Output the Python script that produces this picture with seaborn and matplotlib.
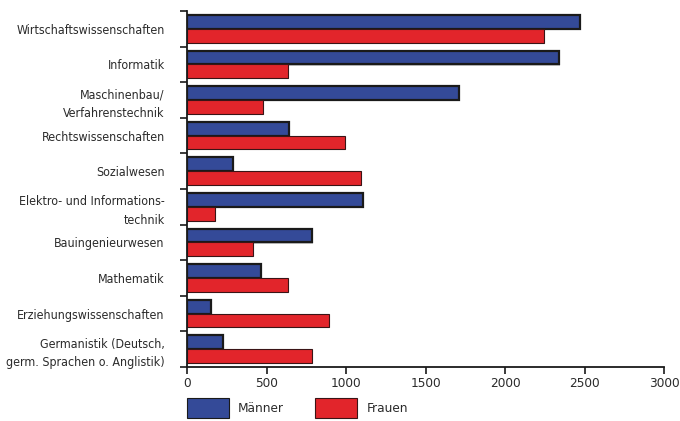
import matplotlib
matplotlib.use("Agg")
import matplotlib.pyplot as plt
import matplotlib.patheffects as pe
from matplotlib import font_manager as fm
from matplotlib.patches import Patch
from matplotlib.ticker import FixedLocator
import pandas as pd
import seaborn as sns

faecher = [
    "Wirtschaftswissenschaften",
    "Informatik",
    "Maschinenbau/\nVerfahrenstechnik",
    "Rechtswissenschaften",
    "Sozialwesen",
    "Elektro- und Informations-\ntechnik",
    "Bauingenieurwesen",
    "Mathematik",
    "Erziehungswissenschaften",
    "Germanistik (Deutsch,\ngerm. Sprachen o. Anglistik)",
]
maenner = [2470, 2340, 1710, 640, 290, 1105, 787, 466, 149, 228]
frauen = [2245, 633, 478, 992, 1095, 178, 413, 633, 891, 784]
x_ticks = [0, 500, 1000, 1500, 2000, 2500, 3000]

BLAU = "#344a98"
ROT = "#e2252b"
TEXT = "#2b2b2b"

df = pd.DataFrame({
    "Fach": faecher * 2,
    "Anzahl": maenner + frauen,
    "Geschlecht": ["Männer"] * len(faecher) + ["Frauen"] * len(faecher),
})

sns.set_theme(style="white")

# prefer a condensed face when one is installed, otherwise Roboto
cond = fm.findfont(fm.FontProperties(family="DejaVu Sans", stretch="condensed"))
if "Condensed" in cond:
    plt.rcParams["font.family"] = ["DejaVu Sans"]
    plt.rcParams["font.stretch"] = "condensed"
else:
    plt.rcParams["font.family"] = ["Roboto", "DejaVu Sans"]
FS = 8.9

fig = plt.figure(figsize=(6.8, 4.21), dpi=100)
ax = fig.add_axes([187 / 680, 1 - 367 / 421, (664.3 - 187) / 680, (367 - 11) / 421])

sns.barplot(
    data=df, y="Fach", x="Anzahl", hue="Geschlecht", order=faecher,
    hue_order=["Männer", "Frauen"], palette=[BLAU, ROT], orient="h",
    width=0.77, saturation=1, legend=False, ax=ax,
)

shadow = [pe.SimplePatchShadow(offset=(0.8, -0.8), shadow_rgbFace="#888888", alpha=0.5), pe.Normal()]
for bar in ax.containers[0]:
    bar.set_edgecolor("#1a1a1a")
    bar.set_linewidth(1.6)
    bar.set_path_effects(shadow)
for bar in ax.containers[1]:
    bar.set_edgecolor("#3a1416")
    bar.set_linewidth(0.8)
    bar.set_path_effects(shadow)

ax.set_xlim(0, 3000)
ax.set_ylim(len(faecher) - 0.5, -0.5)
ax.set_xlabel("")
ax.set_ylabel("")

for s in ("top", "right"):
    ax.spines[s].set_visible(False)
for s in ("left", "bottom"):
    ax.spines[s].set_color("#1a1a1a")
    ax.spines[s].set_linewidth(1.3)

ax.set_xticks(x_ticks)
ax.set_xticklabels([str(v) for v in x_ticks])
ax.tick_params(axis="x", direction="out", length=5, width=1.2, color="#1a1a1a",
               labelsize=FS + 0.8, labelcolor=TEXT, pad=2, bottom=True)
ax.set_yticks(range(len(faecher)))
ax.set_yticklabels(faecher, linespacing=1.55)
ax.tick_params(axis="y", which="major", length=0, pad=16, labelsize=FS, labelcolor=TEXT, left=True)
ax.yaxis.set_minor_locator(FixedLocator([i - 0.5 for i in range(len(faecher) + 1)]))
ax.tick_params(axis="y", which="minor", direction="out", length=5, width=1.2, color="#1a1a1a", left=True)

handles = [
    Patch(facecolor=BLAU, edgecolor="#1a1a1a", linewidth=0.8, label="Männer"),
    Patch(facecolor=ROT, edgecolor="#3a1416", linewidth=0.8, label="Frauen"),
]
fig.legend(
    handles=handles, loc="upper left", bbox_to_anchor=(187 / 680, 1 - 398 / 421),
    ncol=2, frameon=False, borderpad=0, borderaxespad=0, fontsize=FS + 0.8,
    handlelength=3.1, handleheight=1.9, handletextpad=0.7, columnspacing=2.3,
    labelcolor=TEXT,
)

fig.savefig("out.png", dpi=100)
